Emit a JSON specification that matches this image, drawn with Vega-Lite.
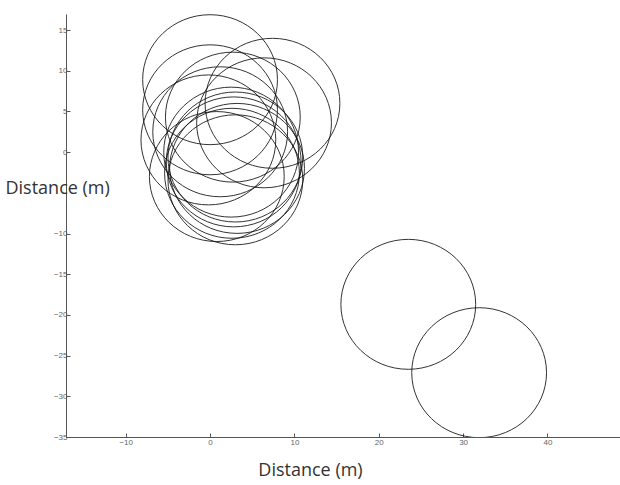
{
  "$schema": "https://vega.github.io/schema/vega-lite/v6.json",
  "autosize": "none",
  "width": 554,
  "height": 423,
  "padding": {"left": 66, "top": 14, "right": 0, "bottom": 48},
  "background": "white",
  "config": {"view": {"stroke": null}},
  "data": {"values": [
    {"x": 0.0, "y": 8.9},
    {"x": 7.4, "y": 6.0},
    {"x": 6.4, "y": 3.6},
    {"x": 0.0, "y": 5.2},
    {"x": -0.2, "y": 1.5},
    {"x": 2.7, "y": 4.3},
    {"x": 1.2, "y": 2.5},
    {"x": 2.5, "y": 0.0},
    {"x": 3.0, "y": -0.6},
    {"x": 2.8, "y": -1.2},
    {"x": 3.2, "y": -2.0},
    {"x": 2.6, "y": -2.6},
    {"x": 3.0, "y": -3.4},
    {"x": 0.8, "y": -3.0},
    {"x": 23.5, "y": -18.7},
    {"x": 31.9, "y": -27.1}
  ]},
  "mark": {
    "type": "point",
    "filled": false,
    "shape": "M-1,0A1,0.964,0,1,1,1,0A1,0.964,0,1,1,-1,0Z",
    "size": 18171,
    "stroke": "#111",
    "strokeWidth": 1,
    "opacity": 0.85,
    "clip": true
  },
  "encoding": {
    "x": {
      "field": "x", "type": "quantitative",
      "scale": {"domain": [-17.08, 48.6], "nice": false, "zero": false},
      "axis": {
        "values": [-10, 0, 10, 20, 30, 40],
        "grid": false,
        "title": "Distance (m)",
        "titleFont": "Open Sans", "titleFontSize": 18, "titleFontWeight": "normal", "titleColor": "#333",
        "titleAngle": 0, "titleX": 244, "titleY": 33, "titleAlign": "center", "titleBaseline": "middle",
        "labelFont": "Liberation Sans", "labelFontSize": 8, "labelColor": "#666",
        "tickSize": -4, "tickColor": "#555", "domainColor": "#555", "labelPadding": 5
      }
    },
    "y": {
      "field": "y", "type": "quantitative",
      "scale": {"domain": [-35, 16.97], "nice": false, "zero": false},
      "axis": {
        "values": [-35, -30, -25, -20, -15, -10, 0, 5, 10, 15],
        "grid": false,
        "title": "Distance (m)",
        "titleFont": "Open Sans", "titleFontSize": 18, "titleFontWeight": "normal", "titleColor": "#333",
        "titleAngle": 0, "titleX": -61, "titleY": 174, "titleAlign": "left", "titleBaseline": "middle",
        "labelFont": "Liberation Sans", "labelFontSize": 8, "labelColor": "#666",
        "tickSize": -4, "tickColor": "#555", "domainColor": "#555", "labelPadding": 3
      }
    }
  }
}
